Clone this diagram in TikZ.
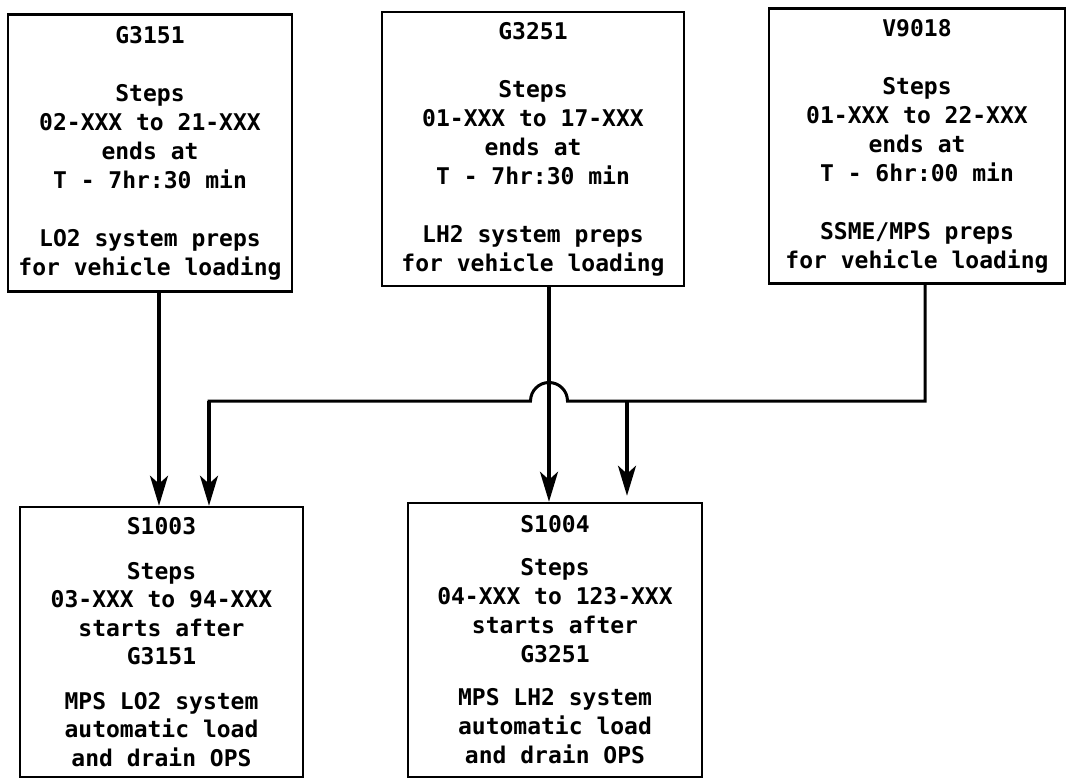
\documentclass[tikz,border=0pt]{standalone}
\usepackage{fontspec}
\setmonofont{DejaVu Sans Mono}
\usetikzlibrary{arrows.meta}
\tikzset{
  box/.style={draw, line width=2.5pt, rectangle, align=center, inner sep=0pt,
    font=\ttfamily\bfseries\fontsize{23}{29}\selectfont},
  flow/.style={line width=3.5pt, -{Stealth[length=30pt,width=18pt,inset=8pt]}},
  wire/.style={line width=3pt}
}
\begin{document}
\begin{tikzpicture}[x=1pt,y=-1pt]
\useasboundingbox (0,0) rectangle (1068,778);
\clip (0,0) rectangle (1068,778);
% top boxes
\node[box, minimum width=284pt, minimum height=277pt] (g1) at (150,153)
  {G3151\\[29pt]Steps\\02-XXX to 21-XXX\\ends at\\T - 7hr:30 min\\[29pt]LO2 system preps\\for vehicle loading};
\node[box, minimum width=302pt, minimum height=274pt] (g2) at (533,149)
  {G3251\\[29pt]Steps\\01-XXX to 17-XXX\\ends at\\T - 7hr:30 min\\[29pt]LH2 system preps\\for vehicle loading};
\node[box, minimum width=296pt, minimum height=275pt] (g3) at (917,146)
  {V9018\\[29pt]Steps\\01-XXX to 22-XXX\\ends at\\T - 6hr:00 min\\[29pt]SSME/MPS preps\\for vehicle loading};
% bottom boxes
\node[box, minimum width=283pt, minimum height=270pt, font=\ttfamily\bfseries\fontsize{23}{28.5}\selectfont] (s1) at (161.5,642)
  {S1003\\[16pt]Steps\\03-XXX to 94-XXX\\starts after\\G3151\\[16pt]MPS LO2 system\\automatic load\\and drain OPS};
\node[box, minimum width=294pt, minimum height=274pt, font=\ttfamily\bfseries\fontsize{23}{29}\selectfont] (s2) at (555,640)
  {S1004\\[14pt]Steps\\04-XXX to 123-XXX\\starts after\\G3251\\[14pt]MPS LH2 system\\automatic load\\and drain OPS};
% junction coordinates
\coordinate (v) at (925,401);
\coordinate (hl) at (530.5,401);
\coordinate (hr) at (567.5,401);
\coordinate (b1) at (627,401);
\coordinate (c1) at (209,401);
\coordinate (x1) at (159,0);
\coordinate (x2) at (549,0);
% straight connectors
\draw[flow] (g1.south -| x1) -- (s1.north -| x1);
\draw[flow] (g2.south -| x2) -- (s2.north -| x2);
% V9018 bus with hop
\draw[wire, line join=miter] (g3.south -| v) -- (v) -- (hr) arc[start angle=0, end angle=180, radius=18.5pt] -- (c1) -- ([yshift=-10pt]c1);
\draw[flow] (c1) -- (s1.north -| c1);
\draw[flow] (b1) -- ([yshift=6pt]s2.north -| b1);
\end{tikzpicture}
\end{document}
